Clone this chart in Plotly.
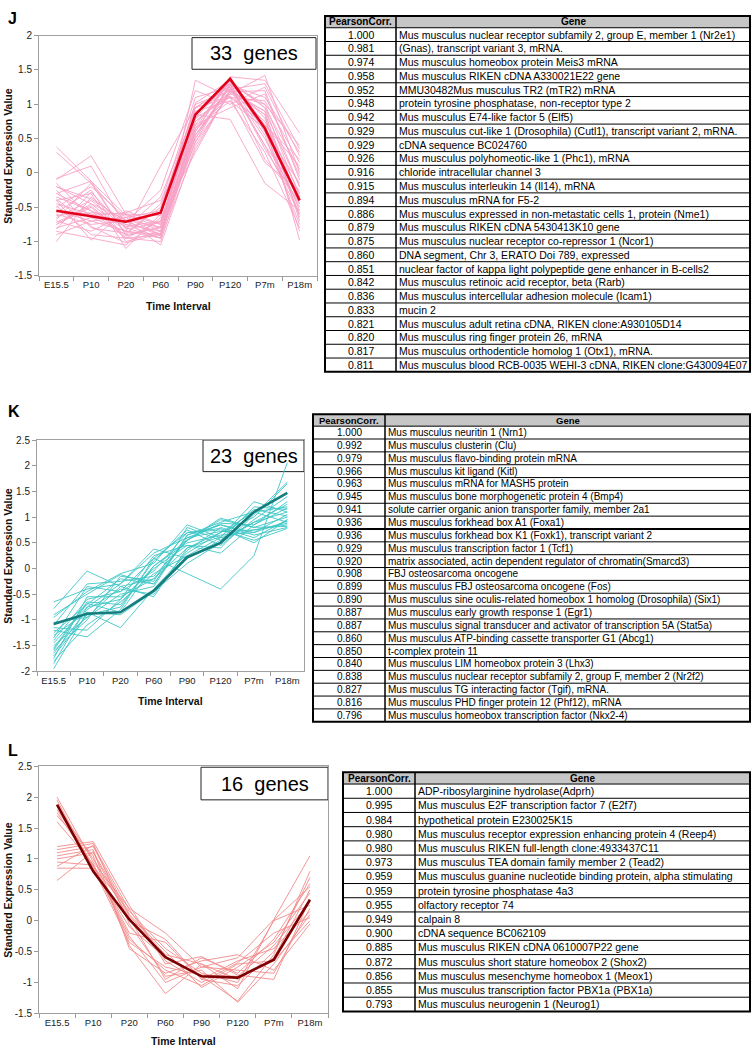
import plotly.graph_objects as go

W, H = 752, 1054

# ---------------- data ----------------
time_points = ["E15.5", "P10", "P20", "P60", "P90", "P120", "P7m", "P18m"]

j_ticks = [-1.5, -1, -0.5, 0, 0.5, 1, 1.5, 2]
j_tick_text = ["-1.5", "-1", "-0.5", "0", "0.5", "1", "1.5", "2"]
k_ticks = [-2, -1.5, -1, -0.5, 0, 0.5, 1, 1.5, 2, 2.5]
k_tick_text = ["-2", "-1.5", "-1", "-0.5", "0", "0.5", "1", "1.5", "2", "2.5"]
l_ticks = [-1.5, -1, -0.5, 0, 0.5, 1, 1.5, 2, 2.5]
l_tick_text = ["-1.5", "-1", "-0.5", "0", "0.5", "1", "1.5", "2", "2.5"]

j_centroid = [-0.55, -0.63, -0.71, -0.58, 0.85, 1.37, 0.65, -0.40]
j_profiles = [
    [0.38, -0.12, -0.62, -0.85, 0.55, 1.20, 0.85, -0.45],
    [0.30, -0.15, -0.70, -0.90, 0.45, 1.30, 1.00, -0.20],
    [-0.10, 0.25, -0.60, -0.75, 0.80, 1.35, 0.60, -0.60],
    [-0.08, 0.10, -0.80, -0.95, 1.35, 1.10, 0.70, 0.20],
    [-0.20, -0.45, -0.85, 0.10, 0.95, 1.25, 0.40, -0.30],
    [-0.30, -0.12, -0.90, -0.80, 0.60, 1.40, 1.35, 0.58],
    [-0.35, -0.55, -0.95, -0.70, 0.75, 1.15, 1.42, 0.00],
    [-0.40, -0.30, -1.10, -0.60, 0.85, 0.78, -0.15, -0.55],
    [-0.45, -0.60, -0.75, -0.85, 0.50, 1.28, 1.10, 0.30],
    [-0.50, -0.20, -0.65, -0.55, 1.00, 1.20, 0.90, -0.70],
    [-0.55, -0.70, -0.85, -0.90, 0.70, 1.32, 0.95, -0.35],
    [-0.60, -0.75, -0.70, -1.05, 0.40, 1.18, 1.20, -0.10],
    [-0.65, -0.40, -0.80, -0.35, 0.90, 1.05, 0.30, -0.80],
    [-0.70, -0.85, -0.60, -0.80, 0.65, 1.38, 0.70, 0.10],
    [-0.75, -0.50, -0.95, -0.90, 0.55, 1.25, 0.50, -0.50],
    [-0.80, -0.65, -0.72, -0.25, 1.20, 1.00, 1.25, 0.25],
    [-0.85, -0.95, -1.05, -0.65, 0.30, 1.22, 0.85, -0.98],
    [-1.00, -0.35, -0.75, -0.95, 0.80, 1.10, 0.15, -0.25],
    [-0.25, -0.80, -0.88, -0.50, 0.95, 1.30, 0.80, -0.65],
    [-0.40, -0.98, -0.55, -0.75, 0.60, 1.35, 0.60, -0.15],
    [-0.58, -0.25, -1.00, -0.85, 0.45, 1.15, 1.00, 0.40],
    [-0.68, -0.15, -0.90, -0.45, 1.10, 1.25, 0.20, -0.40],
    [-0.90, -0.70, -0.65, -0.90, 0.70, 0.95, 1.15, -0.05],
    [-0.30, -0.55, -0.78, -0.70, 0.85, 1.30, 0.55, -0.75],
    [-0.15, -0.65, -0.85, -0.95, 0.35, 1.20, 0.75, -0.30],
    [-0.75, -0.45, -0.68, -0.80, 0.95, 1.10, 1.05, 0.15],
    [-0.48, -0.90, -0.95, -1.00, 0.55, 1.28, 0.40, -0.60],
    [-0.62, -0.58, -0.60, -0.62, 1.02, 1.35, 0.95, 0.05],
    [-0.82, -0.28, -0.82, -0.72, 0.65, 1.05, 0.65, -0.85],
    [-0.38, -0.78, -1.02, -0.88, 0.75, 1.18, 0.90, -0.20],
    [-0.55, -0.62, -0.58, -0.40, 0.50, 1.30, 0.35, -0.45],
    [-0.72, -0.48, -0.92, -0.78, 0.88, 1.22, 1.30, 0.35],
    [-0.20, -0.38, -0.70, -0.92, 0.62, 1.12, 0.70, -0.55],
]

k_centroid = [-1.08, -0.88, -0.85, -0.43, 0.22, 0.50, 1.10, 1.47]
k_profiles = [
    [-0.65, -0.40, -0.30, 0.38, 0.20, 0.55, 0.90, 1.10],
    [-0.78, -0.05, -0.35, -0.20, 0.40, 0.70, 1.10, 1.20],
    [-0.95, -0.45, -0.10, 0.10, 0.85, 0.60, 0.75, 0.85],
    [-1.10, -0.30, -0.25, -0.15, 0.55, 0.98, 0.80, 1.00],
    [-1.20, -1.33, -0.80, 0.20, -0.10, -0.40, 0.25, 2.06],
    [-1.25, -0.70, -0.20, -0.30, 0.60, 0.85, 0.65, 0.80],
    [-1.30, -0.85, -1.15, -0.40, 0.30, 0.70, 1.00, 1.65],
    [-1.40, -0.60, -0.45, -0.05, 0.70, 0.75, 0.55, 0.78],
    [-1.45, -0.75, -0.60, 0.25, 0.45, 0.30, 0.85, 1.30],
    [-1.50, -0.95, -0.50, -0.35, 0.65, 0.90, 1.10, 0.90],
    [-1.55, -0.65, -0.70, 0.05, 0.50, 0.65, 0.70, 1.05],
    [-1.60, -1.00, -0.15, -0.25, 0.80, 0.55, 1.20, 1.15],
    [-1.65, -0.80, -0.40, -0.50, 0.35, 0.80, 0.60, 0.95],
    [-1.70, -0.90, -0.75, 0.15, 0.75, 0.45, 0.95, 1.40],
    [-1.75, -0.55, -0.55, -0.20, 0.55, 0.95, 0.80, 0.82],
    [-1.80, -1.10, -0.65, -0.10, 0.25, 0.60, 1.30, 1.10],
    [-1.85, -0.75, -0.30, 0.30, 0.60, 0.72, 0.75, 0.88],
    [-1.95, -0.85, -0.90, -0.45, 0.10, 0.50, 0.90, 1.25],
    [-0.90, -0.50, -0.12, -0.30, 0.65, 0.85, 0.70, 0.92],
    [-1.15, -1.20, -0.60, 0.00, 0.45, 0.40, 1.05, 1.68],
    [-1.35, -0.35, -0.45, 0.20, 0.70, 0.78, 0.50, 0.95],
    [-1.05, -0.95, -0.35, -0.55, 0.40, 0.62, 1.15, 1.02],
    [-1.58, -0.68, -0.85, 0.05, 0.55, 0.88, 0.85, 1.18],
]

l_centroid = [1.88, 0.80, 0.02, -0.59, -0.90, -0.92, -0.63, 0.34]
l_profiles = [
    [2.00, 0.95, 0.20, -0.20, -0.75, -0.60, 0.02, 1.05],
    [1.95, 0.85, -0.10, -0.60, -0.90, -1.30, -0.55, 0.80],
    [1.85, 1.00, 0.05, -0.95, -0.60, -0.85, -0.30, 0.60],
    [1.80, 0.90, -0.30, -0.80, -1.05, -0.70, -0.65, 0.00],
    [1.75, 0.88, 0.15, -0.45, -0.85, -1.00, 0.00, 0.25],
    [1.70, 1.05, -0.40, -1.18, -0.70, -0.95, -0.60, 0.50],
    [1.60, 0.92, -0.20, -0.35, -0.95, -0.65, -0.45, 0.15],
    [1.20, 1.28, 0.25, -0.70, -0.58, -0.88, -0.95, 0.35],
    [1.15, 1.25, -0.05, -0.90, -0.80, -1.32, -0.70, 0.10],
    [1.10, 1.20, 0.10, -0.50, -1.08, -0.75, -0.35, 0.45],
    [1.05, 1.15, -0.45, -0.85, -0.65, -0.55, -0.80, -0.05],
    [1.00, 1.10, 0.00, -0.30, -0.95, -1.05, -0.50, 0.70],
    [0.95, 0.90, -0.25, -1.00, -0.75, -0.80, -0.85, 0.20],
    [0.88, 1.22, 0.18, -0.65, -1.00, -0.68, -0.20, 0.05],
    [0.85, 0.85, -0.35, -0.75, -0.88, -0.90, -0.40, 0.30],
    [0.65, 1.12, 0.08, -0.55, -0.70, -1.10, 0.01, 0.55],
]

j_corr = ["1.000", "0.981", "0.974", "0.958", "0.952", "0.948", "0.942", "0.929",
          "0.929", "0.926", "0.916", "0.915", "0.894", "0.886", "0.879", "0.875",
          "0.860", "0.851", "0.842", "0.836", "0.833", "0.821", "0.820", "0.817", "0.811"]
j_genes = [
    "Mus musculus nuclear receptor subfamily 2, group E, member 1 (Nr2e1)",
    "(Gnas), transcript variant 3, mRNA.",
    "Mus musculus homeobox protein Meis3 mRNA",
    "Mus musculus RIKEN cDNA A330021E22 gene",
    "MMU30482Mus musculus TR2 (mTR2) mRNA",
    "protein tyrosine phosphatase, non-receptor type 2",
    "Mus musculus E74-like factor 5 (Elf5)",
    "Mus musculus cut-like 1 (Drosophila) (Cutl1), transcript variant 2, mRNA.",
    "cDNA sequence BC024760",
    "Mus musculus polyhomeotic-like 1 (Phc1), mRNA",
    "chloride intracellular channel 3",
    "Mus musculus interleukin 14 (Il14), mRNA",
    "Mus musculus mRNA for F5-2",
    "Mus musculus expressed in non-metastatic cells 1, protein (Nme1)",
    "Mus musculus RIKEN cDNA 5430413K10 gene",
    "Mus musculus nuclear receptor co-repressor 1 (Ncor1)",
    "DNA segment, Chr 3, ERATO Doi 789, expressed",
    "nuclear factor of kappa light polypeptide gene enhancer in B-cells2",
    "Mus musculus retinoic acid receptor, beta (Rarb)",
    "Mus musculus intercellular adhesion molecule (Icam1)",
    "mucin 2",
    "Mus musculus adult retina cDNA, RIKEN clone:A930105D14",
    "Mus musculus ring finger protein 26, mRNA",
    "Mus musculus orthodenticle homolog 1 (Otx1), mRNA.",
    "Mus musculus blood RCB-0035 WEHI-3 cDNA, RIKEN clone:G430094E07",
]

k_corr = ["1.000", "0.992", "0.979", "0.966", "0.963", "0.945", "0.941", "0.936",
          "0.936", "0.929", "0.920", "0.908", "0.899", "0.890", "0.887", "0.887",
          "0.860", "0.850", "0.840", "0.838", "0.827", "0.816", "0.796"]
k_genes = [
    "Mus musculus neuritin 1 (Nrn1)",
    "Mus musculus clusterin (Clu)",
    "Mus musculus flavo-binding protein mRNA",
    "Mus musculus kit ligand (Kitl)",
    "Mus musculus mRNA for MASH5 protein",
    "Mus musculus bone morphogenetic protein 4 (Bmp4)",
    "solute carrier organic anion transporter family, member 2a1",
    "Mus musculus forkhead box A1 (Foxa1)",
    "Mus musculus forkhead box K1 (Foxk1), transcript variant 2",
    "Mus musculus transcription factor 1 (Tcf1)",
    "matrix associated, actin dependent regulator of chromatin(Smarcd3)",
    "FBJ osteosarcoma oncogene",
    "Mus musculus FBJ osteosarcoma oncogene (Fos)",
    "Mus musculus sine oculis-related homeobox 1 homolog (Drosophila) (Six1)",
    "Mus musculus early growth response 1 (Egr1)",
    "Mus musculus signal transducer and activator of transcription 5A (Stat5a)",
    "Mus musculus ATP-binding cassette transporter G1 (Abcg1)",
    "t-complex protein 11",
    "Mus musculus LIM homeobox protein 3 (Lhx3)",
    "Mus musculus nuclear receptor subfamily 2, group F, member 2 (Nr2f2)",
    "Mus musculus TG interacting factor (Tgif), mRNA.",
    "Mus musculus PHD finger protein 12 (Phf12), mRNA",
    "Mus musculus homeobox transcription factor (Nkx2-4)",
]

l_corr = ["1.000", "0.995", "0.984", "0.980", "0.980", "0.973", "0.959", "0.959",
          "0.955", "0.949", "0.900", "0.885", "0.872", "0.856", "0.855", "0.793"]
l_genes = [
    "ADP-ribosylarginine hydrolase(Adprh)",
    "Mus musculus E2F transcription factor 7 (E2f7)",
    "hypothetical protein E230025K15",
    "Mus musculus receptor expression enhancing protein 4 (Reep4)",
    "Mus musculus RIKEN full-length clone:4933437C11",
    "Mus musculus TEA domain family member 2 (Tead2)",
    "Mus musculus guanine nucleotide binding protein, alpha stimulating",
    "protein tyrosine phosphatase 4a3",
    "olfactory receptor 74",
    "calpain 8",
    "cDNA sequence BC062109",
    "Mus musculus RIKEN cDNA 0610007P22 gene",
    "Mus musculus short stature homeobox 2 (Shox2)",
    "Mus musculus mesenchyme homeobox 1 (Meox1)",
    "Mus musculus transcription factor PBX1a (PBX1a)",
    "Mus musculus neurogenin 1 (Neurog1)",
]

# ---------------- layout helpers ----------------
def X(px):
    return px / W


def Y(py):
    return 1 - py / H


FONT = "Liberation Sans, Arial, sans-serif"

panels = [
    dict(letter="J", profiles=j_profiles, centroid=j_centroid, count="33",
         thin="#f7a3c6", bold="#e2001a", ticks=j_ticks, tick_text=j_tick_text,
         rng=[-1.5, 2], plot=(39, 317, 30, 273), box=(192, 316, 32, 64),
         letter_y=13, xtitle_y=303,
         table=dict(corr=j_corr, genes=j_genes, left=325, split=396, right=750,
                    top=10, header_h=12, bottom=370, fs=10.5, thick_after=None)),
    dict(letter="K", profiles=k_profiles, centroid=k_centroid, count="23",
         thin="#3fc6c6", bold="#157d7d", ticks=k_ticks, tick_text=k_tick_text,
         rng=[-2, 2.5], plot=(37, 304, 439, 673), box=(203, 304, 439, 471),
         letter_y=410, xtitle_y=703,
         table=dict(corr=k_corr, genes=k_genes, left=313, split=385, right=750,
                    top=413, header_h=12, bottom=724, fs=10, thick_after=8)),
    dict(letter="L", profiles=l_profiles, centroid=l_centroid, count="16",
         thin="#f28b8b", bold="#7d0000", ticks=l_ticks, tick_text=l_tick_text,
         rng=[-1.5, 2.5], plot=(39, 328, 769, 1019), box=(201, 328, 770, 803),
         letter_y=753, xtitle_y=1047,
         table=dict(corr=l_corr, genes=l_genes, left=343, split=415, right=750,
                    top=775, header_h=12, bottom=1017, fs=10.5, thick_after=None)),
]

fig = go.Figure()
shapes = []
annotations = []
layout_axes = {}

for i, p in enumerate(panels):
    sfx = "" if i == 0 else str(i + 1)
    xa, ya = "x" + sfx, "y" + sfx
    for prof in p["profiles"]:
        fig.add_trace(go.Scatter(x=time_points, y=prof, mode="lines",
                                 line=dict(color=p["thin"], width=0.9),
                                 xaxis=xa, yaxis=ya, showlegend=False,
                                 hoverinfo="skip"))
    fig.add_trace(go.Scatter(x=time_points, y=p["centroid"], mode="lines",
                             line=dict(color=p["bold"], width=2.6),
                             xaxis=xa, yaxis=ya, showlegend=False))
    x0, x1, y0, y1 = p["plot"]
    layout_axes["xaxis" + sfx] = dict(
        domain=[X(x0), X(x1)], anchor=ya, type="category",
        categoryorder="array", categoryarray=time_points,
        range=[-0.5, len(time_points) - 0.5], tickson="boundaries",
        ticks="outside", ticklen=4, tickcolor="#999999", tickangle=0,
        showline=True, mirror=True, linecolor="#a0a0a0", linewidth=1,
        showgrid=False, zeroline=False,
        tickfont=dict(family=FONT, size=9.5, color="#222222"),
    )
    layout_axes["yaxis" + sfx] = dict(
        domain=[Y(y1), Y(y0)], anchor=xa, range=p["rng"],
        tickvals=p["ticks"], ticktext=p["tick_text"],
        ticks="outside", ticklen=4, tickcolor="#999999",
        showline=True, mirror=True, linecolor="#a0a0a0", linewidth=1,
        showgrid=False, zeroline=False,
        tickfont=dict(family=FONT, size=10, color="#222222"),
    )
    # panel letter
    annotations.append(dict(x=X(6), y=Y(p["letter_y"]), xref="paper", yref="paper",
                            text="<b>%s</b>" % p["letter"], showarrow=False,
                            xanchor="left", yanchor="middle",
                            font=dict(family=FONT, size=16, color="black")))
    # axis titles
    annotations.append(dict(x=X(8), y=Y((y0 + y1) / 2), xref="paper", yref="paper",
                            text="<b>Standard Expression Value</b>", showarrow=False,
                            textangle=-90, xanchor="center", yanchor="middle",
                            font=dict(family=FONT, size=10.5, color="#111111")))
    annotations.append(dict(x=X((x0 + x1) / 2), y=Y(p["xtitle_y"]), xref="paper",
                            yref="paper", text="<b>Time Interval</b>", showarrow=False,
                            xanchor="center", yanchor="middle",
                            font=dict(family=FONT, size=10.5, color="#111111")))
    # gene count box
    bx0, bx1, by0, by1 = p["box"]
    shapes.append(dict(type="rect", xref="paper", yref="paper", layer="below",
                       x0=X(bx0), x1=X(bx1), y0=Y(by1), y1=Y(by0),
                       line=dict(color="#222222", width=1), fillcolor="white"))
    annotations.append(dict(x=X((bx0 + bx1) / 2), y=Y((by0 + by1) / 2), xref="paper",
                            yref="paper", text=p["count"] + "\u00a0 genes",
                            showarrow=False, xanchor="center", yanchor="middle",
                            font=dict(family=FONT, size=20, color="black")))

    # table
    t = p["table"]
    n = len(t["corr"])
    row_h = (t["bottom"] - t["top"] - t["header_h"]) / n
    shapes.append(dict(type="rect", xref="paper", yref="paper",
                       x0=X(t["left"]), x1=X(t["right"]),
                       y0=Y(t["top"] + t["header_h"]), y1=Y(t["top"]),
                       line=dict(width=0), fillcolor="#c6c6c6"))
    for r in range(n):
        yy = t["top"] + t["header_h"] + r * row_h
        w = 1
        if t["thick_after"] is not None and r == t["thick_after"]:
            w = 2
        shapes.append(dict(type="line", xref="paper", yref="paper",
                           x0=X(t["left"]), x1=X(t["right"]), y0=Y(yy), y1=Y(yy),
                           line=dict(color="black", width=w)))
        yc = yy + row_h / 2
        annotations.append(dict(x=X((t["left"] + t["split"]) / 2), y=Y(yc),
                                xref="paper", yref="paper", text=t["corr"][r],
                                showarrow=False, xanchor="center", yanchor="middle",
                                font=dict(family=FONT, size=t["fs"], color="black")))
        annotations.append(dict(x=X(t["split"] + 1), y=Y(yc), xref="paper",
                                yref="paper", text=t["genes"][r], showarrow=False,
                                xanchor="left", yanchor="middle",
                                font=dict(family=FONT, size=t["fs"], color="black")))
    shapes.append(dict(type="line", xref="paper", yref="paper",
                       x0=X(t["split"]), x1=X(t["split"]),
                       y0=Y(t["bottom"]), y1=Y(t["top"]),
                       line=dict(color="black", width=1.5)))
    shapes.append(dict(type="rect", xref="paper", yref="paper",
                       x0=X(t["left"]), x1=X(t["right"]),
                       y0=Y(t["bottom"]), y1=Y(t["top"]),
                       line=dict(color="black", width=2)))
    hy = t["top"] + t["header_h"] / 2
    annotations.append(dict(x=X((t["left"] + t["split"]) / 2), y=Y(hy), xref="paper",
                            yref="paper", text="<b>PearsonCorr.</b>", showarrow=False,
                            xanchor="center", yanchor="middle",
                            font=dict(family=FONT, size=t["fs"] - 0.5, color="black")))
    annotations.append(dict(x=X((t["split"] + t["right"]) / 2), y=Y(hy), xref="paper",
                            yref="paper", text="<b>Gene</b>", showarrow=False,
                            xanchor="center", yanchor="middle",
                            font=dict(family=FONT, size=t["fs"] - 0.5, color="black")))

fig.update_layout(
    width=W, height=H, margin=dict(l=0, r=0, t=0, b=0),
    paper_bgcolor="white", plot_bgcolor="white", showlegend=False,
    shapes=shapes, annotations=annotations, **layout_axes,
)

fig.write_html(
    "out.html",
    config={"displayModeBar": False},
    post_script="document.body.style.margin='0';document.body.style.overflow='hidden';",
)
